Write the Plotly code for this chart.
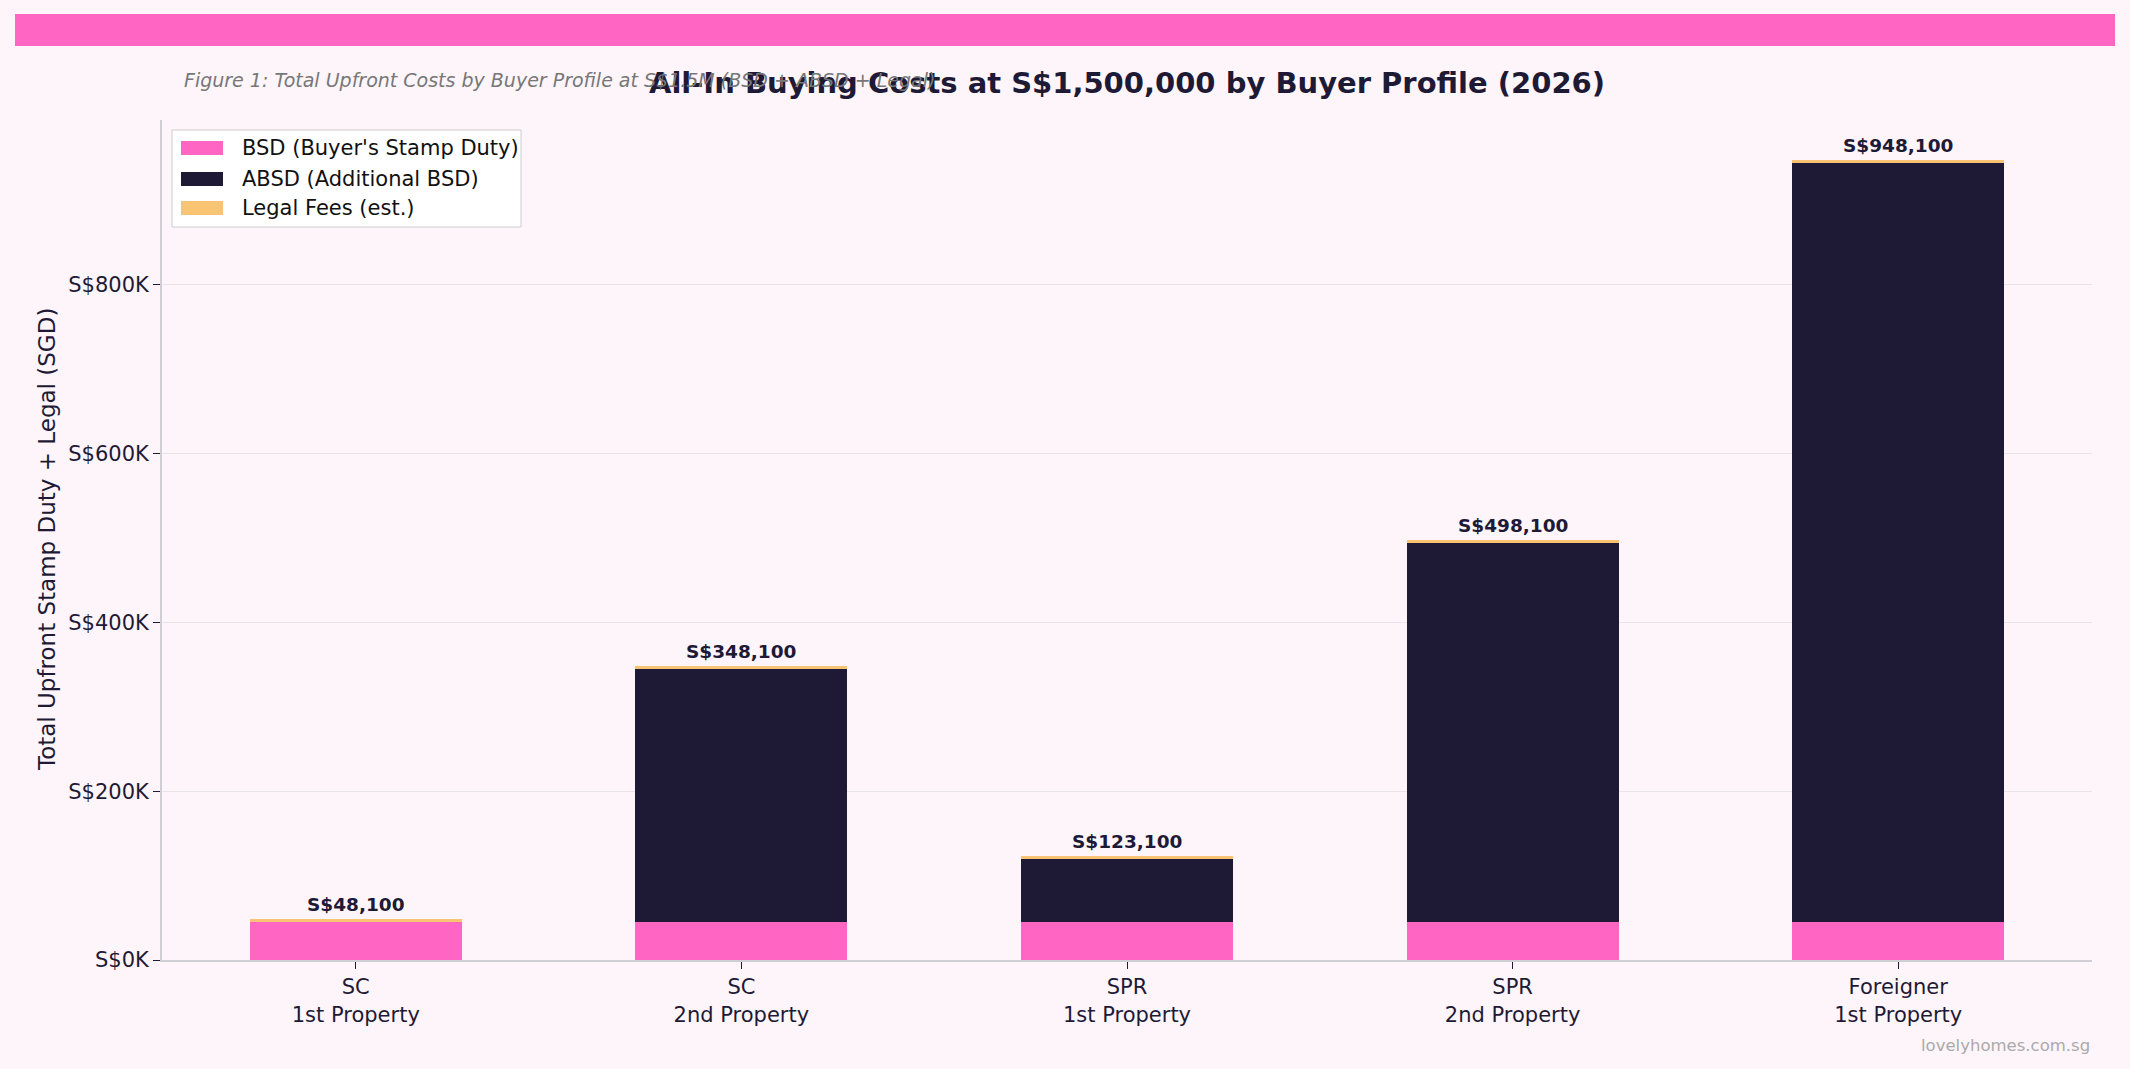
import plotly.graph_objects as go

categories = ["SC<br>1st Property", "SC<br>2nd Property", "SPR<br>1st Property",
              "SPR<br>2nd Property", "Foreigner<br>1st Property"]
series_names = ["BSD (Buyer's Stamp Duty)", "ABSD (Additional BSD)", "Legal Fees (est.)"]
bsd = [44600, 44600, 44600, 44600, 44600]
absd = [0, 300000, 75000, 450000, 900000]
legal = [3500, 3500, 3500, 3500, 3500]
totals = [b + a + l for b, a, l in zip(bsd, absd, legal)]
ytick_vals = [0, 200000, 400000, 600000, 800000]
ytick_text = ["S$0K", "S$200K", "S$400K", "S$600K", "S$800K"]

PINK = "#FF66C4"
NAVY = "#1E1A36"
GOLD = "#F9C374"
BG = "#FDF5FA"
FONT = "DejaVu Sans"
colors = [PINK, NAVY, GOLD]

W, H = 2130, 1069
L, R, T, B = 162, 38, 120, 109
pw, ph = W - L - R, H - T - B

def px(x):
    return (x - L) / pw

def py(y):
    return (H - B - y) / ph

fig = go.Figure()
for name, vals, col in zip(series_names, [bsd, absd, legal], colors):
    fig.add_bar(x=categories, y=vals, name=name, marker_color=col,
                marker_line_width=0, width=0.55, showlegend=False)

for c, t in zip(categories, totals):
    fig.add_annotation(x=c, y=t, text=f"<b>S${t:,.0f}</b>", showarrow=False,
                       yanchor="bottom", yshift=2,
                       font=dict(family=FONT, size=18.5, color=NAVY))

fig.update_layout(
    width=W, height=H,
    barmode="stack",
    paper_bgcolor=BG, plot_bgcolor=BG,
    margin=dict(l=L, r=R, t=T, b=B, autoexpand=False),
    font=dict(family=FONT, color=NAVY, size=21),
    title=dict(text="<b>All-In Buying Costs at S$1,500,000 by Buyer Profile (2026)</b>",
               x=px((L + W - R) / 2), xref="paper", xanchor="center",
               y=1 - 83 / H, yref="container", yanchor="middle",
               font=dict(family=FONT, size=29, color=NAVY)),
    showlegend=False,
)

fig.update_xaxes(range=[-0.5025, 4.5025], showline=True, linecolor="#D0CDD4", linewidth=2,
                 ticks="outside", ticklen=7, tickcolor="#1E1A36", tickwidth=1,
                 showgrid=False, tickfont=dict(family=FONT, size=21, color=NAVY))
fig.update_yaxes(range=[0, 995505], tickvals=ytick_vals, ticktext=ytick_text,
                 showline=True, linecolor="#D0CDD4", linewidth=2,
                 ticks="outside", ticklen=7, tickcolor="#1E1A36", tickwidth=1,
                 showgrid=True, gridcolor="#E8E4EA", gridwidth=1, zeroline=False,
                 tickfont=dict(family=FONT, size=21, color=NAVY))

# top pink band
fig.add_shape(type="rect", xref="paper", yref="paper",
              x0=px(15), x1=px(2115), y0=py(46), y1=py(14),
              fillcolor=PINK, line_width=0, layer="above")

# manual legend (box, swatches, labels)
fig.add_shape(type="rect", xref="paper", yref="paper",
              x0=px(172), x1=px(521), y0=py(227), y1=py(130),
              fillcolor="white", line=dict(color="#CCCCCC", width=1), layer="above")
row_y = [148, 179, 208]
for name, col, ry in zip(series_names, colors, row_y):
    fig.add_shape(type="rect", xref="paper", yref="paper",
                  x0=px(181), x1=px(223), y0=py(ry + 7), y1=py(ry - 7),
                  fillcolor=col, line_width=0, layer="above")
    fig.add_annotation(xref="paper", yref="paper", x=px(240), y=py(ry),
                       xanchor="left", yanchor="middle", showarrow=False, text=name,
                       font=dict(family=FONT, size=21, color="#111111"))

# subtitle
fig.add_annotation(xref="paper", yref="paper", x=px(182), y=py(80), xanchor="left",
                   yanchor="middle", showarrow=False,
                   text="<i>Figure 1: Total Upfront Costs by Buyer Profile at S$1.5M (BSD + ABSD + Legal)</i>",
                   font=dict(family=FONT, size=19, color="#777777"))

# y axis title
fig.add_annotation(xref="paper", yref="paper", x=px(47), y=0.5, xanchor="center",
                   yanchor="middle", showarrow=False, textangle=-90,
                   text="Total Upfront Stamp Duty + Legal (SGD)",
                   font=dict(family=FONT, size=23, color=NAVY))

# watermark
fig.add_annotation(xref="paper", yref="paper", x=1, y=py(1045), xanchor="right",
                   yanchor="middle", showarrow=False, text="lovelyhomes.com.sg",
                   font=dict(family=FONT, size=16.5, color="#AAAAAA"))

fig.write_html("out.html")
